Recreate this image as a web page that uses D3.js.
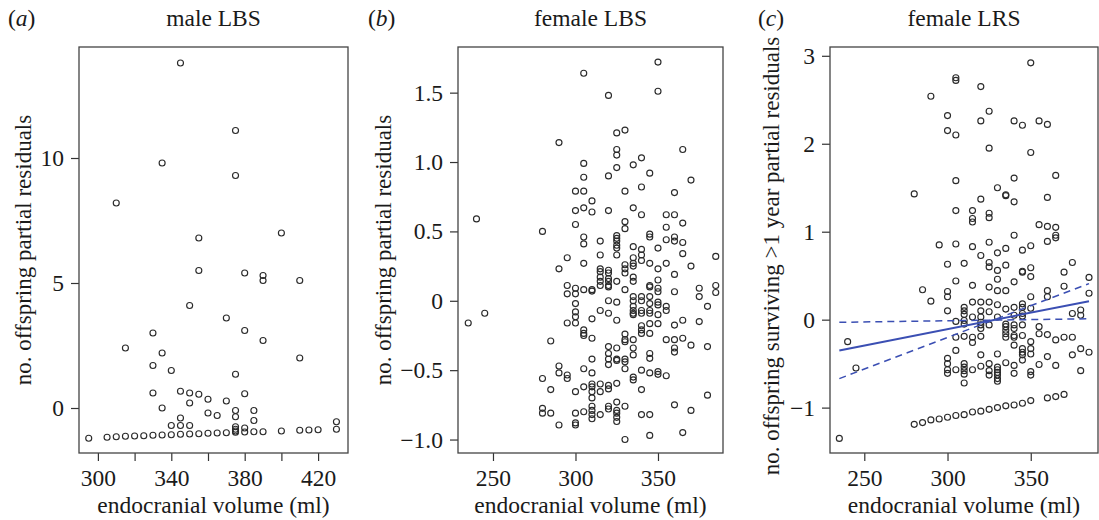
<!DOCTYPE html>
<html lang="en">
<head>
<meta charset="UTF-8">
<title>Endocranial volume partial residuals</title>
<script src="https://d3js.org/d3.v7.min.js"></script>
<style>
  body { margin: 0; background: #fff; }
  svg { display: block; }
  text { font-family: "Liberation Serif", "DejaVu Serif", serif; fill: #1a1a1a; }
</style>
</head>
<body>
<script>

// (a) male LBS: [endocranial volume, partial residual]
const maleLBS = [
  [345,13.8],[375,11.1],[335,9.8],[375,9.3],[310,8.2],[355,6.8],[400,7.0],[355,5.5],[380,5.4],
  [390,5.3],[390,5.1],[410,5.1],[350,4.1],[370,3.6],[330,3.0],[380,3.1],[390,2.7],[315,2.4],
  [335,2.2],[410,2.0],[330,1.7],[340,1.5],[375,1.35],[330,0.6],[345,0.67],[350,0.6],[355,0.55],
  [360,0.35],[370,0.28],[380,0.57],[350,0.2],[335,0.0],[375,-0.1],[375,-0.35],[385,-0.1],
  [360,-0.2],[365,-0.3],[345,-0.4],[385,-0.5],[340,-0.7],[345,-0.7],[350,-0.7],[375,-0.75],
  [375,-0.85],[375,-0.92],[380,-0.8],[430,-0.55],
  [295,-1.21],[305,-1.17],[310,-1.15],[315,-1.13],[320,-1.12],[325,-1.11],[330,-1.09],[335,-1.08],
  [340,-1.07],[345,-1.05],[350,-1.04],[355,-1.03],[360,-1.01],[365,-1.0],[370,-0.99],[375,-0.97],
  [380,-0.96],[385,-0.95],[390,-0.95],[400,-0.92],[410,-0.89],[415,-0.88],[420,-0.87],[430,-0.85]
];

// (b) female LBS
const femaleLBS = [
  [350,1.72],[305,1.64],[320,1.48],[350,1.51],[325,1.21],[330,1.23],[290,1.14],[325,1.09],[325,1.05],
  [365,1.09],[305,0.99],[325,0.96],[335,0.98],[340,1.03],[345,0.92],[305,0.89],[320,0.9],[370,0.87],
  [235,-0.16],[245,-0.09],[240,0.59],[280,0.5],
  [300,0.79],[305,0.79],[330,0.79],[340,0.82],[360,0.78],[310,0.72],[300,0.65],[305,0.67],[310,0.64],
  [320,0.65],[335,0.67],[340,0.62],[355,0.62],[360,0.62],[330,0.57],[330,0.52],[365,0.56],[300,0.55],
  [355,0.53],[305,0.46],[305,0.41],[315,0.43],[325,0.47],[325,0.45],[325,0.43],[325,0.40],[325,0.38],
  [335,0.39],[340,0.37],[345,0.48],[345,0.46],[350,0.38],[355,0.44],[360,0.46],[360,0.43],[365,0.42],
  [365,0.34],[385,0.32],[295,0.31],[315,0.33],[325,0.33],[335,0.31],[340,0.33],
  [290,0.23],[305,0.27],[315,0.23],[315,0.21],[320,0.22],[320,0.20],[330,0.26],[330,0.23],[330,0.20],
  [335,0.27],[335,0.25],[335,0.17],[335,0.14],[355,0.27],[360,0.19],[370,0.25],[350,0.23],[350,0.15],
  [315,0.17],[315,0.14],[320,0.14],[320,0.11],[340,0.29],[345,0.27],
  [295,0.11],[295,0.05],[300,0.09],[300,0.05],[305,0.08],[310,0.08],[310,0.07],[315,0.11],[320,0.16],
  [320,0.10],[325,0.14],[330,0.08],[335,0.03],[335,0.0],[340,0.03],[340,0.0],[345,0.11],[345,0.10],
  [345,0.03],[345,-0.02],[350,0.09],[350,0.065],[350,-0.01],[350,-0.03],[355,-0.04],[355,-0.07],
  [360,0.065],[375,0.09],[375,0.03],[380,-0.04],[385,0.11],[385,0.06],
  [300,-0.02],[300,-0.08],[300,-0.115],[300,-0.16],[295,-0.16],[305,-0.21],[305,-0.235],[305,-0.25],
  [310,-0.13],[310,-0.27],[315,-0.07],[320,-0.09],[325,-0.14],[320,0.0],[325,-0.01],[335,-0.04],
  [335,-0.07],[335,-0.09],[335,-0.10],[340,-0.07],[340,-0.09],[340,-0.18],[340,-0.21],[340,-0.235],
  [345,-0.07],[345,-0.09],[345,-0.165],[345,-0.235],[350,-0.10],[350,-0.165],[360,-0.175],[365,-0.14],
  [375,-0.15],
  [285,-0.29],[320,-0.33],[320,-0.38],[325,-0.34],[330,-0.24],[330,-0.28],[330,-0.295],[335,-0.28],
  [335,-0.34],[335,-0.39],[345,-0.38],[345,-0.415],[355,-0.28],[360,-0.28],[360,-0.34],[360,-0.37],
  [365,-0.27],[370,-0.32],[380,-0.33],[310,-0.42],[320,-0.42],[325,-0.42],[330,-0.42],[330,-0.44],
  [330,-0.49],
  [290,-0.47],[290,-0.52],[295,-0.535],[295,-0.56],[280,-0.56],[305,-0.49],[310,-0.52],[300,-0.655],
  [305,-0.62],[310,-0.6],[310,-0.62],[310,-0.655],[310,-0.70],[315,-0.6],[315,-0.655],[320,-0.61],
  [320,-0.635],[325,-0.595],[320,-0.46],[325,-0.43],[335,-0.55],[335,-0.57],[340,-0.50],[340,-0.64],
  [345,-0.52],[350,-0.51],[350,-0.53],[355,-0.54],[285,-0.64],[380,-0.68],
  [280,-0.775],[280,-0.81],[285,-0.81],[290,-0.895],[300,-0.81],[300,-0.88],[300,-0.895],[305,-0.80],
  [310,-0.76],[310,-0.79],[310,-0.82],[310,-0.85],[315,-0.82],[320,-0.76],[320,-0.78],[325,-0.79],
  [325,-0.81],[325,-0.84],[325,-0.87],[325,-0.73],[330,-0.76],[340,-0.82],[345,-0.82],[345,-0.97],
  [330,-1.0],[360,-0.75],[365,-0.95],[370,-0.79]
];

// (c) female LRS
const femaleLRS = [
  [350,2.92],[305,2.75],[305,2.72],[320,2.65],[290,2.54],[300,2.32],[325,2.37],[320,2.26],[340,2.26],
  [345,2.21],[355,2.26],[360,2.22],[300,2.15],[305,2.1],[325,1.95],[350,1.9],[305,1.58],[340,1.61],
  [365,1.64],[280,1.43],[330,1.5],[335,1.42],[335,1.41],[340,1.34],[320,1.37],[360,1.39],[305,1.24],
  [315,1.24],[315,1.15],[315,1.11],[325,1.21],[325,1.16],[355,1.08],[360,1.06],[365,1.05],[365,0.96],
  [365,0.93],[340,0.96],[360,0.89],[295,0.85],[305,0.86],[315,0.83],[320,0.73],[325,0.88],[330,0.76],
  [335,0.81],[345,0.79],[350,0.84],
  [300,0.63],[310,0.64],[325,0.65],[325,0.6],[330,0.56],[335,0.62],[345,0.55],[345,0.54],[350,0.59],
  [350,0.49],[375,0.65],[370,0.54],[305,0.44],[315,0.39],[325,0.37],[330,0.46],[330,0.33],[335,0.33],
  [340,0.43],[350,0.26],[360,0.33],[360,0.26],[370,0.38],[385,0.48],[385,0.3],[285,0.34],[300,0.32],
  [300,0.26],[290,0.21],[315,0.2],[320,0.2],[325,0.2],[330,0.17],[300,0.1],[310,0.14],[310,0.1],
  [320,0.1],[325,0.09],[335,0.12],[340,0.14],[345,0.18],[345,0.14],[350,0.13],[380,0.11],[375,0.07],
  [305,-0.02],[310,0.06],[310,-0.01],[310,-0.05],[315,0.03],[320,0.03],[320,-0.03],[320,-0.06],
  [325,-0.06],[330,0.03],[335,-0.05],[335,-0.08],[335,-0.12],[335,-0.16],[335,-0.2],[340,0.05],
  [340,-0.06],[340,-0.1],[340,-0.18],[340,-0.2],[340,-0.29],[345,0.07],[345,0.04],[345,-0.06],
  [345,-0.18],[345,-0.33],[345,-0.37],[345,-0.4],[350,-0.25],[350,-0.33],[350,-0.39],[355,-0.08],
  [355,-0.16],[360,-0.17],[365,-0.23],[370,-0.2],[375,-0.2],[380,-0.33],[385,-0.37],[375,-0.4],
  [380,-0.58],[365,-0.52],[360,-0.42],[355,-0.51],[350,-0.59],[350,-0.63],[345,-0.46],[340,-0.52],
  [340,-0.61],[335,-0.49],[330,-0.39],[330,-0.54],[330,-0.57],[330,-0.6],[330,-0.63],[330,-0.67],
  [330,-0.7],[325,-0.5],[325,-0.58],[325,-0.63],[320,-0.4],[320,-0.53],[315,-0.57],[310,-0.5],
  [310,-0.54],[310,-0.58],[310,-0.62],[310,-0.72],[305,-0.35],[305,-0.57],[300,-0.44],[300,-0.5],
  [300,-0.57],[300,-0.61],[320,-0.19],[315,-0.2],[315,-0.26],[310,-0.19],[305,-0.2],[320,-0.1],
  [380,0.05],
  [280,-1.19],[285,-1.17],[290,-1.14],[295,-1.13],[300,-1.11],[305,-1.09],[310,-1.08],[315,-1.05],
  [320,-1.04],[325,-1.02],[330,-1.0],[335,-0.98],[340,-0.97],[345,-0.95],[350,-0.92],[360,-0.89],
  [365,-0.875],[370,-0.85],
  [235,-1.35],[240,-0.25],[245,-0.55]
];

// fitted line and the two dashed bounds in (c)
const fitLine = [[235,-0.35],[385,0.21]];
const boundFlat = [[235,-0.03],[385,0.01]];
const boundSteep = [[235,-0.67],[385,0.41]];

const width = 1099
const height = 520
const plotTop = 47, plotBottom = 453

let svg = d3.select("body").append("svg")
            .attr("width", width)
            .attr("height", height)

const fmtInt = d => String(d).replace("-", "\u2212")
const fmtDec = d => d === 0 ? "0" : d3.format(".1f")(d).replace("-", "\u2212")

const panels = [
  {tag: "a", title: "male LBS", data: maleLBS, left: 79, right: 348,
   xDomain: [289.7, 436.3], yDomain: [-1.8, 14.44],
   xTicks: [300, 320, 340, 360, 380, 400, 420], xLabels: [300, 340, 380, 420],
   yTicks: [0, 5, 10], yFmt: fmtInt,
   ylab: "no. offspring partial residuals", ylabX: 31, ylabY: 250, tagX: 8},
  {tag: "b", title: "female LBS", data: femaleLBS, left: 458, right: 723,
   xDomain: [228.8, 389.4], yDomain: [-1.097, 1.829],
   xTicks: [250, 300, 350], xLabels: [250, 300, 350],
   yTicks: [-1, -0.5, 0, 0.5, 1, 1.5], yFmt: fmtDec,
   ylab: "no. offspring partial residuals", ylabX: 391, ylabY: 250, tagX: 368},
  {tag: "c", title: "female LRS", data: femaleLRS, left: 830, right: 1098,
   xDomain: [229.4, 390.4], yDomain: [-1.516, 3.10],
   xTicks: [250, 300, 350], xLabels: [250, 300, 350],
   yTicks: [-1, 0, 1, 2, 3], yFmt: fmtInt,
   ylab: "no. offspring surviving >1 year partial residuals", ylabX: 779, ylabY: 256, tagX: 758}
]

panels.forEach(p => {
    const x = d3.scaleLinear().domain(p.xDomain).range([p.left, p.right])
    const y = d3.scaleLinear().domain(p.yDomain).range([plotBottom, plotTop])
    const g = svg.append("g").attr("class", "panel-" + p.tag)

    // axes
    const xAxis = g.append("g")
        .attr("transform", `translate(0,${plotBottom})`)
        .call(d3.axisBottom(x).tickValues(p.xTicks).tickSize(8).tickPadding(8)
              .tickFormat(d => p.xLabels.includes(d) ? d : ""))
    const yAxis = g.append("g")
        .attr("transform", `translate(${p.left},0)`)
        .call(d3.axisLeft(y).tickValues(p.yTicks).tickSize(8).tickPadding(7)
              .tickFormat(p.yFmt))
    ;[xAxis, yAxis].forEach(a => {
        a.select(".domain").remove()
        a.selectAll("line").attr("stroke", "#333").attr("stroke-width", 1.2)
        a.selectAll("text").attr("font-size", 23.5).attr("fill", "#1a1a1a")
    })

    // points
    g.append("g").selectAll("circle")
        .data(p.data)
        .enter()
        .append("circle")
        .attr("cx", d => x(d[0]))
        .attr("cy", d => y(d[1]))
        .attr("r", 3)
        .attr("fill", "none")
        .attr("stroke", "#2a2a2a")
        .attr("stroke-width", 1.15)

    if (p.tag === "c") {
        const line = d3.line().x(d => x(d[0])).y(d => y(d[1]))
        g.append("path").attr("d", line(fitLine))
            .attr("fill", "none").attr("stroke", "#3b4fb3").attr("stroke-width", 2)
        ;[boundFlat, boundSteep].forEach(b => {
            g.append("path").attr("d", line(b))
                .attr("fill", "none").attr("stroke", "#3b4fb3")
                .attr("stroke-width", 1.5).attr("stroke-dasharray", "7,5")
        })
    }

    // frame
    g.append("rect")
        .attr("x", p.left).attr("y", plotTop)
        .attr("width", p.right - p.left).attr("height", plotBottom - plotTop)
        .attr("fill", "none").attr("stroke", "#444").attr("stroke-width", 1.3)

    // titles and labels
    const mid = (p.left + p.right) / 2
    g.append("text").attr("x", mid).attr("y", 26)
        .attr("text-anchor", "middle").attr("font-size", 23.5).text(p.title)
    const tag = g.append("text").attr("x", p.tagX).attr("y", 26).attr("font-size", 23.5)
    tag.append("tspan").text("(")
    tag.append("tspan").attr("font-style", "italic").text(p.tag)
    tag.append("tspan").text(")")
    g.append("text").attr("x", mid).attr("y", 513)
        .attr("text-anchor", "middle").attr("font-size", 23.5).text("endocranial volume (ml)")
    g.append("text")
        .attr("transform", `translate(${p.ylabX},${p.ylabY}) rotate(-90)`)
        .attr("text-anchor", "middle").attr("font-size", 23).text(p.ylab)
})

</script>
</body>
</html>
